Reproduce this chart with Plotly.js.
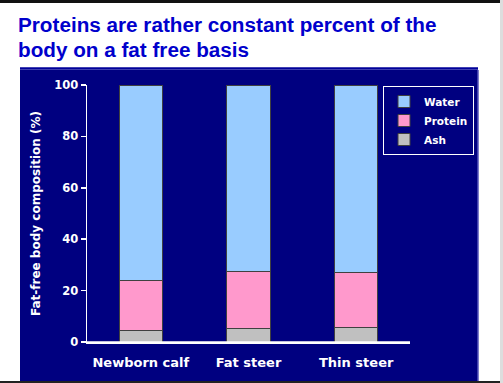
<!DOCTYPE html>
<html><head><meta charset="utf-8">
<script src="https://cdn.plot.ly/plotly-3.0.1.min.js"></script>
<style>html,body{margin:0;padding:0;background:#fff;}#chart{width:503px;height:383px;}</style>
</head><body><div id="chart"></div>
<script>
const categories = ["Newborn calf", "Fat steer", "Thin steer"];
const ash = [4.3, 5.3, 5.6];
const protein = [19.6, 22.2, 21.5];
const water = [76.1, 72.5, 72.9];
const yTicks = [0, 20, 40, 60, 80, 100];
const titleLines = ["Proteins are rather constant percent of the", "body on a fat free basis"];

const F = "Arial, 'Liberation Sans', sans-serif";
const FW = "'DejaVu Sans', Verdana, sans-serif";
const edge = {color: "#404040", width: 1};
const traces = [
  {type: "bar", name: "Ash", x: categories, y: ash, marker: {color: "#c0c0c0", line: edge}},
  {type: "bar", name: "Protein", x: categories, y: protein, marker: {color: "#ff99cc", line: edge}},
  {type: "bar", name: "Water", x: categories, y: water, marker: {color: "#99ccff", line: edge}}
];

// plot area: x 87..410, y 85..342
const L = 87, R = 410, T = 85, B = 342, W = R - L, H = B - T;
const px = v => (v - L) / W;
const py = v => (B - v) / H;

const titleCenters = [24.5, 49.5];
const layout = {
  width: 503, height: 383,
  margin: {l: L, r: 503 - R, t: T, b: 383 - B},
  paper_bgcolor: "#ffffff",
  plot_bgcolor: "rgba(0,0,0,0)",
  barmode: "stack",
  bargap: 0.6,
  showlegend: true,
  annotations: titleLines.map((t, i) => ({
    text: t,
    xref: "paper", yref: "paper", x: px(16), y: py(titleCenters[i]),
    xanchor: "left", yanchor: "middle", align: "left", showarrow: false,
    font: {family: F, size: 20.7, color: "#0000cc", weight: "bold"}
  })),
  xaxis: {
    type: "category",
    showline: true, linecolor: "#ffffff", linewidth: 1.5,
    ticks: "", showgrid: false, zeroline: false,
    ticklabelstandoff: 8,
    tickfont: {family: FW, size: 13, color: "#ffffff", weight: "bold"}
  },
  yaxis: {
    range: [0, 100], tickvals: yTicks, ticktext: yTicks.map(String),
    showline: true, linecolor: "#ffffff", linewidth: 1.5,
    ticks: "outside", ticklen: 5, tickcolor: "#ffffff", tickwidth: 1.5,
    showgrid: false, zeroline: false,
    tickfont: {family: FW, size: 11.5, color: "#ffffff", weight: "bold"},
    title: {text: "Fat-free body composition (%)", standoff: 11,
      font: {family: FW, size: 12, color: "#ffffff", weight: "bold"}}
  },
  legend: {
    x: px(383), y: py(86), xanchor: "left", yanchor: "top",
    bgcolor: "rgba(0,0,0,0)", bordercolor: "#ffffff", borderwidth: 1,
    traceorder: "reversed",
    itemwidth: 30, tracegroupgap: 0,
    font: {family: FW, size: 10.5, color: "#ffffff", weight: "bold"}
  },
  shapes: [
    {type: "rect", xref: "paper", yref: "paper", layer: "below",
     x0: px(20), x1: px(478), y0: py(381), y1: py(70),
     fillcolor: "#000080", line: {width: 0}},
    {type: "line", xref: "paper", yref: "paper", layer: "below",
     x0: px(478), x1: px(478), y0: py(381), y1: py(70),
     line: {color: "#5555bb", width: 1.5}},
    {type: "line", xref: "paper", yref: "paper",
     x0: px(20), x1: px(478), y0: py(68.5), y1: py(68.5),
     line: {color: "#000099", width: 2.5}},
    {type: "line", xref: "paper", yref: "paper",
     x0: px(82), x1: px(R), y0: 0, y1: 0,
     line: {color: "#ffffff", width: 1.5}},
    {type: "rect", xref: "paper", yref: "paper",
     x0: px(0), x1: px(503), y0: py(3), y1: py(0),
     fillcolor: "#111111", line: {width: 0}},
    {type: "line", xref: "paper", yref: "paper",
     x0: px(0), x1: px(503), y0: py(382), y1: py(382),
     line: {color: "#222222", width: 2}},
    {type: "line", xref: "paper", yref: "paper",
     x0: px(501.5), x1: px(501.5), y0: py(0), y1: py(383),
     line: {color: "#dddddd", width: 3}}
  ]
};

Plotly.newPlot("chart", traces, layout, {displayModeBar: false, staticPlot: true});
</script></body></html>
